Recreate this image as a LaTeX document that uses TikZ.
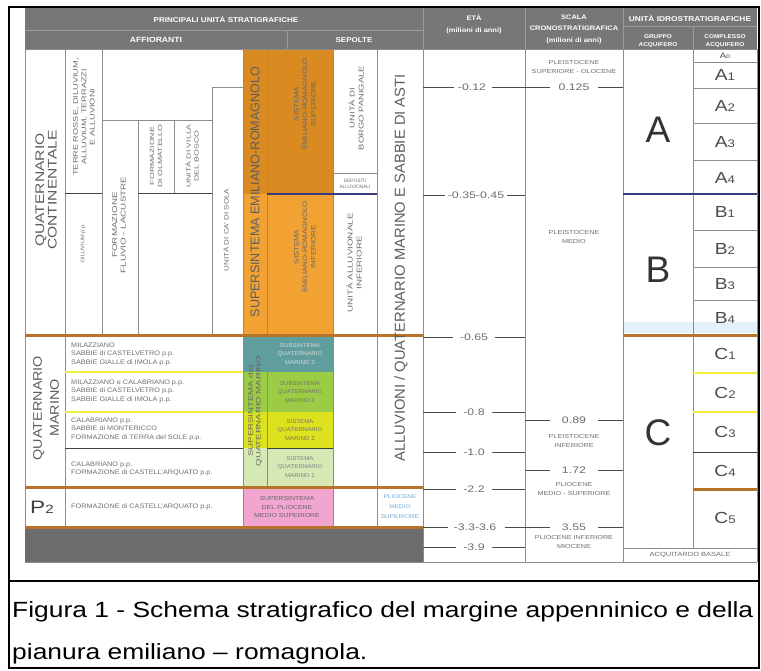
\documentclass[tikz,border=0pt]{standalone}
\usepackage{fontspec}
\setmainfont{Liberation Sans}
\usepackage{graphicx}
\newcommand{\fz}[2]{\fontsize{#1}{#2}\selectfont}
\definecolor{hdrgray}{HTML}{777777}
\definecolor{hdrline}{HTML}{9A9A9A}
\definecolor{gridc}{HTML}{8C8C8C}
\definecolor{txtg}{HTML}{6E6E6E}
\definecolor{orD}{HTML}{D98B22}
\definecolor{orL}{HTML}{F2A233}
\definecolor{brownl}{HTML}{B8732A}
\definecolor{tealc}{HTML}{5F9E9C}
\definecolor{greenc}{HTML}{9CCB45}
\definecolor{yellc}{HTML}{DDE21E}
\definecolor{lgreen}{HTML}{D6E8B4}
\definecolor{pinkc}{HTML}{F2A6CF}
\definecolor{yline}{HTML}{F2EE3A}
\definecolor{bline}{HTML}{3A3A80}
\definecolor{botgray}{HTML}{6C6C6C}
\definecolor{ltblue}{HTML}{6FA8DC}
\definecolor{tint}{HTML}{E3F1F8}
\tikzset{
  grid/.style={draw=gridc, line width=0.6pt},
  brownrule/.style={draw=brownl, line width=3pt},
  yrule/.style={draw=yline, line width=2pt},
  drule/.style={draw=black!75, line width=1pt},
  brule/.style={draw=bline, line width=1.2pt},
  hdrrule/.style={draw=hdrline, line width=0.6pt},
  hdrtxt/.style={text=white, align=center, inner sep=0pt, xscale=1.15},
  tiny/.style={text=txtg, align=center, inner sep=0pt},
  tinyl/.style={font=\fz{6.5}{8.6}, text=txtg, align=left, inner sep=0pt, anchor=west, xscale=1.12},
  vert/.style={rotate=90, xscale=#1},
  vert/.default=1,
  big/.style={text=txtg!85!black, align=center, inner sep=0pt},
  num/.style={font=\fz{9.5}{10}, text=txtg, inner sep=0pt, xscale=1.3},
  tick/.style={draw=black!70, line width=0.8pt},
  grp/.style={font=\fz{37}{37}, text=black!80, inner sep=0pt},
  cpl/.style={text=black!70, inner sep=0pt, font=\fz{16}{16}, xscale=1.2},
  capt/.style={font=\fz{22}{26}, text=black, inner sep=0pt, anchor=west, xscale=1.2}
}
\begin{document}
\begin{tikzpicture}[x=1pt,y=-1pt]
\useasboundingbox (0,0) rectangle (761,670);
\fill[white] (0,0) rectangle (761,670);

% ---------- header ----------
\fill[hdrgray] (25,8) rectangle (757,49);
\draw[hdrrule] (25,30) -- (423,30);
\draw[hdrrule] (287,30) -- (287,49);
\draw[hdrrule] (423,8) -- (423,49);
\draw[hdrrule] (525,8) -- (525,49);
\draw[hdrrule] (623,8) -- (623,49);
\draw[hdrrule] (623,26) -- (757,26);
\draw[hdrrule] (693,26) -- (693,49);
\node[hdrtxt, font=\fz{7}{8}\bfseries] (h1) at (226,19) {PRINCIPALI UNITÀ STRATIGRAFICHE};
\node[hdrtxt, font=\fz{7.5}{8}\bfseries] (h2) at (156,40) {AFFIORANTI};
\node[hdrtxt, font=\fz{7}{8}\bfseries] (h3) at (354,40) {SEPOLTE};
\node[hdrtxt, font=\fz{6.5}{12}\bfseries] (h4) at (474,24) {ETÀ\\(milioni di anni)};
\node[hdrtxt, font=\fz{6.5}{11.5}\bfseries] (h5) at (574,29) {SCALA\\CRONOSTRATIGRAFICA\\(milioni di anni)};
\node[hdrtxt, font=\fz{7}{8}\bfseries, xscale=1.04] (h6) at (690,18) {UNITÀ IDROSTRATIGRAFICHE};
\node[hdrtxt, font=\fz{5.6}{8}\bfseries] (h7) at (658,41) {GRUPPO\\ACQUIFERO};
\node[hdrtxt, font=\fz{5.6}{8}\bfseries] (h8) at (725,41) {COMPLESSO\\ACQUIFERO};

% ---------- colour fills ----------
\fill[orD] (243,49) rectangle (333,194);
\fill[orL] (243,194) rectangle (333,335);
\fill[tealc] (243,335) rectangle (333,372);
\fill[greenc] (243,372) rectangle (333,412);
\fill[yellc] (243,412) rectangle (333,448);
\fill[lgreen] (243,448) rectangle (333,487);
\fill[pinkc] (243,487) rectangle (333,527);
\fill[botgray] (25,527) rectangle (423,562);
\fill[tint] (623,322) rectangle (757,333);

% ---------- grid ----------
\draw[grid] (25,49) -- (757,49);
\draw[grid] (25,49) -- (25,527);
\draw[grid] (65,49) -- (65,527);
\draw[grid] (102,49) -- (102,335);
\draw[grid] (138,120) -- (138,335);
\draw[grid] (174,120) -- (174,193);
\draw[grid] (212,87) -- (212,335);
\draw[grid] (243,49) -- (243,527);
\draw[grid] (267,49) -- (267,487);
\draw[grid] (333,49) -- (333,527);
\draw[grid] (377,49) -- (377,527);
\draw[grid] (423,49) -- (423,562);
\draw[grid] (525,49) -- (525,562);
\draw[grid] (623,49) -- (623,562);
\draw[grid] (693,49) -- (693,548);
\draw[grid] (757,49) -- (757,562);
\draw[grid] (102,120) -- (212,120);
\draw[grid] (212,87) -- (243,87);
\draw[drule] (65,193) -- (102,193);
\draw[drule] (138,193) -- (212,193);
\draw[grid] (333,173) -- (377,173);
\draw[brule] (267,194) -- (377,194);
\draw[brule] (623,194) -- (757,194);
\foreach \yy in {62,88,123,160,230,267,300} {\draw[grid] (693,\yy) -- (757,\yy);}
\draw[grid] (623,548) -- (757,548);
\draw[grid] (25,562) -- (757,562);
\draw[yrule] (65,372) -- (243,372);
\draw[yrule] (65,412) -- (243,412);
\draw[yrule] (693,373) -- (757,373);
\draw[yrule] (693,412) -- (757,412);
\draw[drule] (65,448) -- (243,448);
\draw[drule] (267,448) -- (333,448);
\draw[drule] (693,452) -- (757,452);
\draw[brownrule] (25,335) -- (423,335);
\draw[brownrule] (623,335) -- (757,335);
\draw[brownrule] (25,487) -- (423,487);
\draw[brownrule] (693,489) -- (757,489);
\draw[brownrule] (25,527) -- (423,527);

% ---------- continental ----------
\node[big, vert=1.25, font=\fz{12.5}{12.5}] (qc) at (46,190) {QUATERNARIO\\CONTINENTALE};
\node[tiny, vert=1.35, font=\fz{6.8}{8.4}] (tr) at (84,117) {TERRE ROSSE, DILUVIUM,\\ALLUVIUM, TERRAZZI\\E ALLUVIONI};
\node[tiny, vert=1.1, font=\fz{5.2}{6}] (dl) at (83,243) {DILUVIUM p.p.};
\node[tiny, vert=1.4, font=\fz{7}{8.6}] (fl) at (119,225) {FORMAZIONE\\FLUVIO - LACUSTRE};
\node[tiny, vert=1.45, font=\fz{6}{8}] (ol) at (156,156) {FORMAZIONE\\DI OLMATELLO};
\node[tiny, vert=1.45, font=\fz{6}{8}] (vb) at (192,156) {UNITÀ DI VILLA\\DEL BOSCO};
\node[tiny, vert=1.25, font=\fz{6.4}{7}] (cs) at (226,230) {UNITÀ DI CA' DI SOLA};

\node[big, vert, font=\fz{12.6}{13}] (ser) at (255,192) {SUPERSINTEMA EMILIANO-ROMAGNOLO};
\node[tiny, vert=1.2, font=\fz{6.5}{8.5}, text=black!60] (ss) at (305,104) {SISTEMA\\EMILIANO-ROMAGNOLO\\SUPERIORE};
\node[tiny, vert=1.2, font=\fz{6.5}{8.5}, text=black!60] (si) at (305,247) {SISTEMA\\EMILIANO-ROMAGNOLO\\INFERIORE};
\node[tiny, vert=1.35, font=\fz{7}{9}] (bp) at (356,108) {UNITÀ DI\\BORGO PANIGALE};
\node[tiny, font=\fz{4.8}{6}] (dep) at (355,183.5) {DEPOSITI\\ALLUVIONALI};
\node[tiny, vert=1.4, font=\fz{7}{9}] (ua) at (354,263) {UNITÀ ALLUVIONALE\\INFERIORE};
\node[big, vert=1.02, font=\fz{14.5}{15}] (all) at (401,268) {ALLUVIONI / QUATERNARIO MARINO E SABBIE DI ASTI};

% ---------- marine ----------
\node[big, vert=1.15, font=\fz{12.5}{17}] (qm) at (46,408) {QUATERNARIO\\MARINO};
\node[tinyl] (m1) at (71,354) {MILAZZIANO\\SABBIE di CASTELVETRO p.p.\\SABBIE GIALLE di IMOLA p.p.};
\node[tinyl] (m2) at (71,391) {MILAZZIANO e CALABRIANO p.p.\\SABBIE di CASTELVETRO p.p.\\SABBIE GIALLE di IMOLA p.p.};
\node[tinyl] (m3) at (71,429) {CALABRIANO p.p.\\SABBIE di MONTERICCO\\FORMAZIONE di TERRA del SOLE p.p.};
\node[tinyl] (m4) at (71,469) {CALABRIANO p.p.\\FORMAZIONE di CASTELL'ARQUATO p.p.};
\node[cpl, font=\fz{18}{18}, xscale=1.05, text=black!75] (p2) at (42,507) {P\fz{12}{12}2};
\node[tinyl] (m5) at (71,507) {FORMAZIONE di CASTELL'ARQUATO p.p.};

\node[tiny, vert=1.45, font=\fz{6.6}{7.6}, text=black!60] (sqm) at (255,411) {SUPERSINTEMA del\\QUATERNARIO MARINO};
\node[tiny, font=\fz{5.6}{8.6}, xscale=1.1, text=white!85!black] (r1) at (300,354) {SUBSINTEMA\\QUATERNARIO\\MARINO 3};
\node[tiny, font=\fz{5.6}{8.6}, xscale=1.1, text=black!55] (r2) at (300,392) {SUBSINTEMA\\QUATERNARIO\\MARINO 2};
\node[tiny, font=\fz{5.6}{8.6}, xscale=1.1, text=black!55] (r3) at (300,430) {SISTEMA\\QUATERNARIO\\MARINO 2};
\node[tiny, font=\fz{5.6}{8.6}, xscale=1.1, text=black!50] (r4) at (300,467) {SISTEMA\\QUATERNARIO\\MARINO 1};
\node[tiny, font=\fz{5.8}{8.6}, xscale=1.2, text=black!60] (r5) at (287,507) {SUPERSINTEMA\\DEL PLIOCENE\\MEDIO SUPERIORE};
\node[tiny, text=ltblue, font=\fz{5.4}{10}, xscale=1.2] (pms) at (400,507) {PLIOCENE\\MEDIO\\SUPERIORE};

% ---------- eta ----------
\node[num] (e1) at (472,87) {-0.12};
\node[num] (e2) at (476,195) {-0.35-0.45};
\node[num] (e3) at (474,337) {-0.65};
\node[num] (e4) at (474,412) {-0.8};
\node[num] (e5) at (474,452) {-1.0};
\node[num] (e6) at (474,489) {-2.2};
\node[num] (e7) at (475,527) {-3.3-3.6};
\node[num] (e8) at (474,547) {-3.9};
\foreach \n in {e3,e4,e5,e6,e8} {
  \draw[tick] (423,0 |- \n) -- ([xshift=-7pt]\n.west);
  \draw[tick] ([xshift=7pt]\n.east) -- (525,0 |- \n);
}
\draw[tick] (423,0 |- e1) -- ([xshift=-4pt]e1.west);
\draw[tick] ([xshift=6pt]e1.east) -- (550,0 |- e1);
\draw[tick] (423,0 |- e2) -- ([xshift=-3pt]e2.west);
\draw[tick] ([xshift=3pt]e2.east) -- (525,0 |- e2);
\draw[tick] (423,0 |- e7) -- ([xshift=-5pt]e7.west);
\draw[tick] ([xshift=8pt]e7.east) -- (550,0 |- e7);

% ---------- scala ----------
\node[num] (s1) at (574,87) {0.125};
\node[num] (s2) at (574,420) {0.89};
\node[num] (s3) at (574,470) {1.72};
\node[num] (s4) at (574,527) {3.55};
\foreach \n in {s2,s3} {
  \draw[tick] (525,0 |- \n) -- (550,0 |- \n);
}
\foreach \n in {s1,s2,s3,s4} {
  \draw[tick] (598,0 |- \n) -- (623,0 |- \n);
}
\node[tiny, font=\fz{5.8}{9}, xscale=1.25] (t1) at (574,67) {PLEISTOCENE\\SUPERIORE - OLOCENE};
\node[tiny, font=\fz{5.8}{9.5}, xscale=1.25] (t2) at (574,237) {PLEISTOCENE\\MEDIO};
\node[tiny, font=\fz{5.8}{8.5}, xscale=1.25] (t3) at (574,441) {PLEISTOCENE\\INFERIORE};
\node[tiny, font=\fz{5.8}{8.5}, xscale=1.25] (t4) at (574,489) {PLIOCENE\\MEDIO - SUPERIORE};
\node[tiny, font=\fz{5.8}{8.5}, xscale=1.25] (t5) at (574,542) {PLIOCENE INFERIORE\\MIOCENE};

% ---------- unita idrostratigrafiche ----------
\node[grp] (ga) at (658,130) {A};
\node[grp] (gb) at (658,270) {B};
\node[grp] (gc) at (658,433) {C};
\node[cpl, font=\fz{8}{8}] (a0) at (725,56) {A\fz{5.5}{5.5}0};
\node[cpl] (a1) at (725,75) {A\fz{11}{11}1};
\node[cpl] (a2) at (725,106) {A\fz{11}{11}2};
\node[cpl] (a3) at (725,142) {A\fz{11}{11}3};
\node[cpl] (a4) at (725,178) {A\fz{11}{11}4};
\node[cpl] (b1) at (725,212) {B\fz{11}{11}1};
\node[cpl] (b2) at (725,249) {B\fz{11}{11}2};
\node[cpl] (b3) at (725,284) {B\fz{11}{11}3};
\node[cpl] (b4) at (725,318) {B\fz{11}{11}4};
\node[cpl] (c1) at (725,354) {C\fz{11}{11}1};
\node[cpl] (c2) at (725,393) {C\fz{11}{11}2};
\node[cpl] (c3) at (725,432) {C\fz{11}{11}3};
\node[cpl] (c4) at (725,471) {C\fz{11}{11}4};
\node[cpl] (c5) at (725,518) {C\fz{11}{11}5};
\node[tiny, font=\fz{6}{6}, xscale=1.25] (ab) at (690,555) {ACQUITARDO BASALE};

% ---------- frame and caption ----------
\draw[line width=2.2pt] (9,7) rectangle (759,668);
\draw[line width=2.2pt] (9,581) -- (759,581);
\node[capt] (cap1) at (12,612) {Figura 1 - Schema stratigrafico del margine appenninico e della};
\node[capt] (cap2) at (12,654) {pianura emiliano – romagnola.};
\end{tikzpicture}
\end{document}
